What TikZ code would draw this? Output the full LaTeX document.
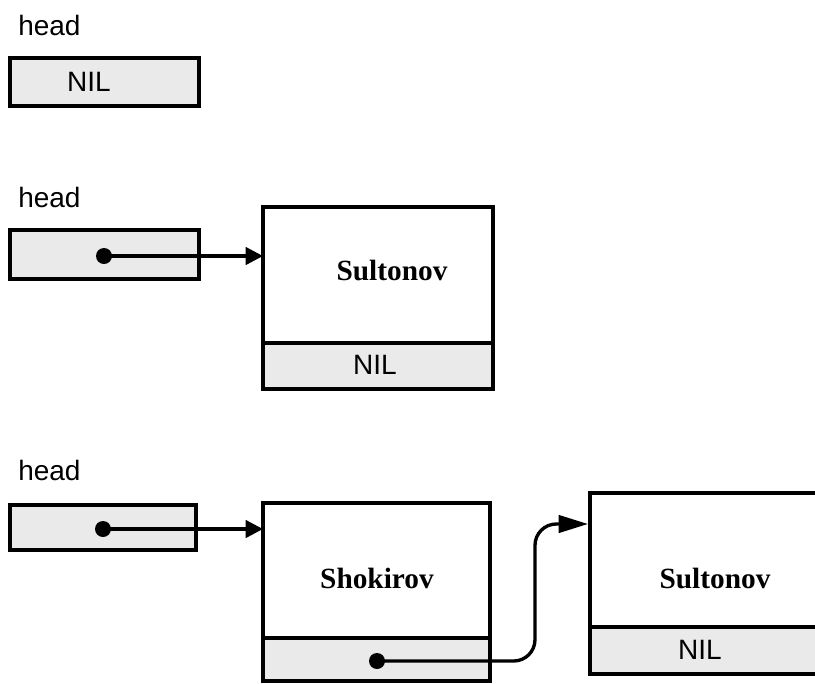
\documentclass[tikz,border=0pt]{standalone}
\usepackage{fontspec}
\setmainfont{Liberation Serif}
\setsansfont{Liberation Sans}
\usetikzlibrary{arrows.meta}
\definecolor{cellgray}{HTML}{EAEAEA}
\tikzset{
  box/.style={draw=black, line width=2.7pt, inner sep=0pt, outer sep=0pt},
  ptrbox/.style={box, fill=cellgray},
  databox/.style={box, fill=white},
  lbl/.style={font=\sffamily\fontsize{21}{24}\selectfont, inner sep=0pt},
  nametxt/.style={font=\rmfamily\bfseries\fontsize{22}{26}\selectfont, inner sep=0pt},
  ptrdot/.style={circle, fill=black, minimum size=12pt, inner sep=0pt},
  link/.style={line width=2.5pt, -{Triangle[length=13pt,width=13pt]}},
  curvelink/.style={line width=2.5pt, rounded corners=16pt, -{Triangle[length=22pt,width=13pt]}}
}
\begin{document}
\begin{tikzpicture}[x=0.75pt, y=-0.75pt]
\useasboundingbox (0,0) rectangle (815,683);
\clip (0,0) rectangle (815,683);
% ---- first: empty list
\node[lbl, anchor=west] (h1) at (18,25) {head};
\node[ptrbox, minimum width=141.75pt, minimum height=36pt] (p1) at (104.5,82) {};
\node[lbl] (nil1) at (89,82) {NIL};
% ---- second: one element
\node[lbl, anchor=west] (h2) at (18,197) {head};
\node[ptrbox, minimum width=141.75pt, minimum height=36.75pt] (p2) at (104.5,254.5) {};
\node[ptrdot] (d2) at (104,256) {};
\node[databox, minimum width=172.5pt, minimum height=102pt] (n2d) at (378,275) {};
\node[ptrbox, minimum width=172.5pt, minimum height=34.5pt] (n2n) at (378,366) {};
\node[nametxt] (s2) at (392,270) {Sultonov};
\node[lbl] (nil2) at (375,365) {NIL};
\coordinate (t2) at (n2d.west |- d2);
\draw[link] (d2.center) -- (t2);
% ---- third: two elements
\node[lbl, anchor=west] (h3) at (18,470) {head};
\node[ptrbox, minimum width=139.5pt, minimum height=33.75pt] (p3) at (103,527.5) {};
\node[ptrdot] (d3) at (103,529) {};
\node[databox, minimum width=170.25pt, minimum height=101.25pt] (n3d) at (376.5,570.5) {};
\node[ptrbox, minimum width=170.25pt, minimum height=32.25pt] (n3n) at (376.5,659.5) {};
\node[nametxt] (s3) at (377,578) {Shokirov};
\node[ptrdot] (d3n) at (377,661) {};
\coordinate (t3) at (n3d.west |- d3);
\draw[link] (d3.center) -- (t3);
\node[databox, minimum width=180pt, minimum height=100.5pt] (n4d) at (710,560) {};
\node[ptrbox, minimum width=180pt, minimum height=35.25pt] (n4n) at (710,650.5) {};
\node[nametxt] (s4) at (715,578) {Sultonov};
\node[lbl] (nil4) at (700,650) {NIL};
\coordinate (t4) at (588,524);
\draw[curvelink] (d3n.center) -- (535,661) -- (535,524) -- (t4);
\end{tikzpicture}
\end{document}
